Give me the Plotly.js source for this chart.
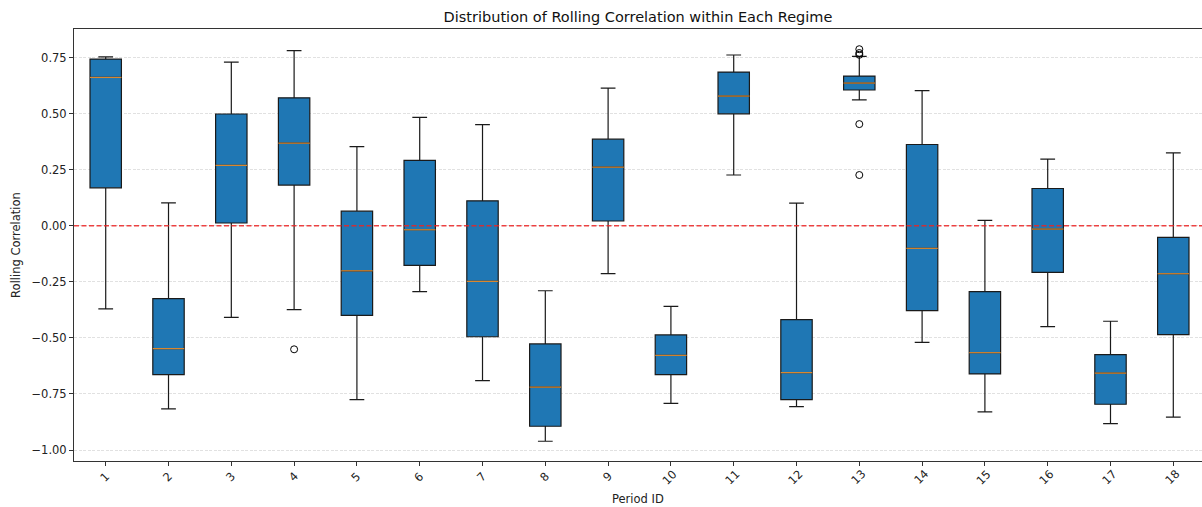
<!DOCTYPE html>
<html>
<head>
<meta charset="utf-8">
<script src="https://cdn.plot.ly/plotly-3.0.1.min.js"></script>
<style>html,body{margin:0;padding:0;background:#fff;}#chart{width:1202px;height:507px;}</style>
</head>
<body>
<div id="chart"></div>
<script>
const periods = [1,2,3,4,5,6,7,8,9,10,11,12,13,14,15,16,17,18];
const tickLabels = periods.map(String);
const lowerWhisker = [-0.371,-0.817,-0.409,-0.374,-0.775,-0.294,-0.691,-0.961,-0.214,-0.792,0.226,-0.807,0.561,-0.520,-0.830,-0.450,-0.882,-0.853];
const q1Values     = [0.169,-0.664,0.012,0.181,-0.400,-0.177,-0.495,-0.894,0.021,-0.664,0.499,-0.775,0.605,-0.379,-0.661,-0.208,-0.796,-0.486];
const medianValues = [0.661,-0.548,0.269,0.368,-0.201,-0.018,-0.248,-0.720,0.261,-0.578,0.578,-0.655,0.636,-0.101,-0.566,-0.015,-0.657,-0.214];
const q3Values     = [0.743,-0.325,0.498,0.570,0.065,0.291,0.111,-0.527,0.386,-0.487,0.685,-0.419,0.667,0.362,-0.294,0.166,-0.575,-0.052];
const upperWhisker = [0.753,0.102,0.729,0.781,0.353,0.483,0.451,-0.290,0.613,-0.360,0.761,0.101,0.755,0.602,0.024,0.297,-0.426,0.325];
const outlierPeriod = [4,13,13,13,13,13];
const outlierValue  = [-0.551,0.787,0.770,0.762,0.453,0.226];

const boxWidth = 0.5;
const medX = [], medY = [];
periods.forEach((p,i)=>{ medX.push(p-boxWidth/2, p+boxWidth/2, null); medY.push(medianValues[i], medianValues[i], null); });

const traces = [
  {
    type:'box', x: periods, q1: q1Values, median: medianValues, q3: q3Values,
    lowerfence: lowerWhisker, upperfence: upperWhisker,
    boxpoints:false, width: boxWidth, whiskerwidth:0.47,
    fillcolor:'#1f77b4', line:{color:'#1a1a1a', width:1.2},
    hoverinfo:'skip', showlegend:false
  },
  {
    type:'scatter', mode:'lines', x: medX, y: medY,
    line:{color:'#d9872f', width:1.2}, hoverinfo:'skip', showlegend:false
  },
  {
    type:'scatter', mode:'markers', x: outlierPeriod, y: outlierValue,
    marker:{symbol:'circle-open', size:7, color:'#000', line:{width:1, color:'#000'}},
    hoverinfo:'skip', showlegend:false
  }
];

const fam = '"DejaVu Sans", sans-serif';
const font = {family:fam, color:'#222'};
const annotations = periods.map((p,i)=>({
  x:p, xref:'x', y:0, yref:'paper', yshift:-16, xshift:-1,
  text: tickLabels[i], textangle:-45, showarrow:false,
  xanchor:'center', yanchor:'middle',
  font:{family:fam, size:11.5, color:'#222'}
}));
annotations.push({
  x:0.5, xref:'paper', y:0, yref:'paper', yshift:-38,
  text:'Period ID', showarrow:false, xanchor:'center', yanchor:'middle',
  font:{family:fam, size:11.5, color:'#222'}
});

const layout = {
  width:1202, height:507,
  margin:{l:74, r:0, t:29, b:46},
  paper_bgcolor:'#fff', plot_bgcolor:'#fff',
  font: Object.assign({size:11.5}, font),
  title:{text:'Distribution of Rolling Correlation within Each Regime', font:{family:fam, size:14.5, color:'#111'}, x:0.5, xref:'paper', xanchor:'center', y:1 - 17/507, yref:'container', yanchor:'middle'},
  xaxis:{
    range:[0.495, 18.457], tickmode:'array', tickvals: periods, showticklabels:false,
    ticks:'outside', ticklen:4, tickcolor:'#333', tickwidth:1,
    showline:true, mirror:true, linecolor:'#333', linewidth:1,
    showgrid:false, zeroline:false
  },
  yaxis:{
    range:[-1.049, 0.877], tickvals:[-1,-0.75,-0.5,-0.25,0,0.25,0.5,0.75],
    ticktext:['−1.00','−0.75','−0.50','−0.25','0.00','0.25','0.50','0.75'],
    ticks:'outside', ticklen:4, tickcolor:'#333', tickwidth:1,
    showline:true, linecolor:'#333', linewidth:1,
    showgrid:true, gridcolor:'#d9d9d9', griddash:'3px,1.5px', gridwidth:0.8,
    zeroline:false,
    title:{text:'Rolling Correlation', font:Object.assign({size:11.5}, font), standoff:8},
    tickfont:Object.assign({size:11.5}, font)
  },
  annotations: annotations,
  shapes:[{type:'line', xref:'paper', x0:0, x1:1, yref:'y', y0:0, y1:0, layer:'above', line:{color:'rgba(235,35,35,0.85)', width:1.4, dash:'5px,2.5px'}}]
};
Plotly.newPlot('chart', traces, layout, {displayModeBar:false, staticPlot:true});
</script>
</body>
</html>
